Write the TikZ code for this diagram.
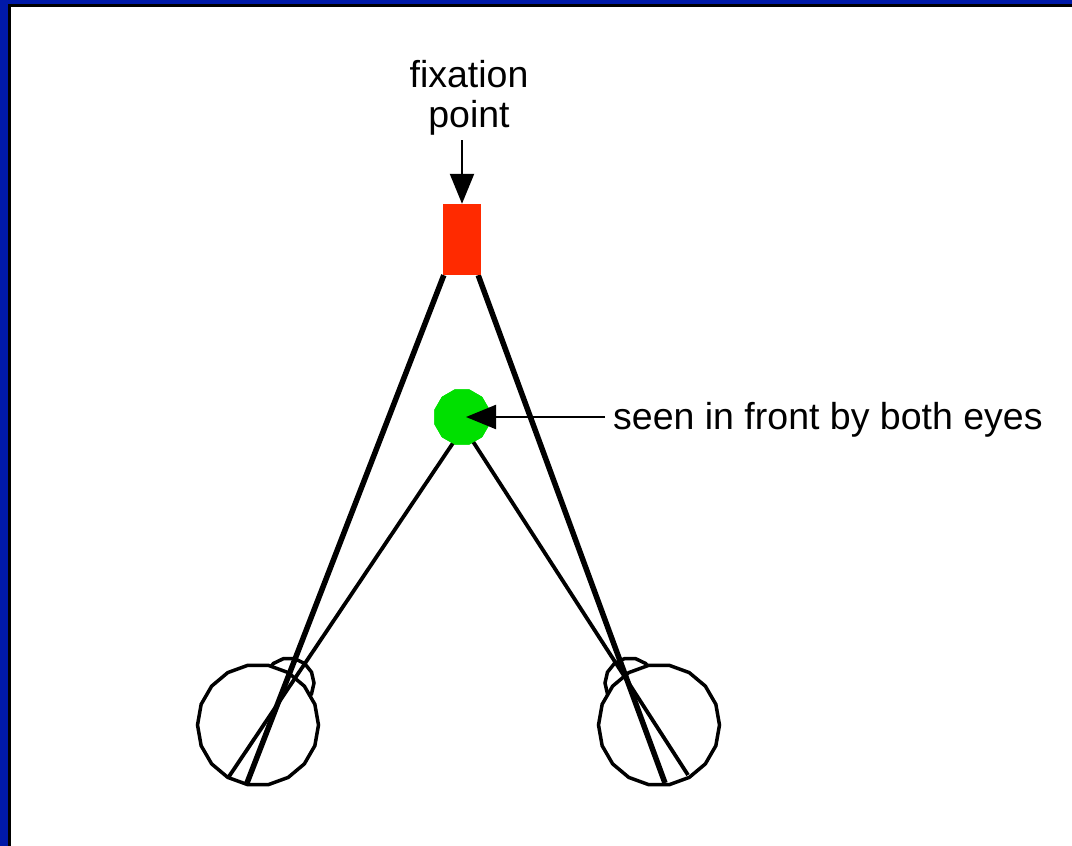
\documentclass[tikz,border=0pt]{standalone}
\usepackage{fontspec}
\setmainfont{Liberation Sans}
\usetikzlibrary{shapes.geometric,arrows.meta}
\definecolor{frameblue}{HTML}{0019A8}
\definecolor{fixred}{HTML}{FF2A00}
\definecolor{neargreen}{HTML}{00E000}
\tikzset{
  eyeball/.style={regular polygon, regular polygon sides=18, draw=black, line width=3.5pt, fill=white, inner sep=0pt},
  lens/.style={regular polygon, regular polygon sides=14, draw=black, line width=3.5pt, fill=white, inner sep=0pt, minimum size=50pt},
  target/.style={fill=fixred, minimum width=38pt, minimum height=71pt, inner sep=0pt},
  nearobj/.style={regular polygon, regular polygon sides=12, fill=neargreen, minimum size=57pt, inner sep=0pt},
  sightmain/.style={line width=5.5pt},
  sightnear/.style={line width=3.8pt},
  pointer/.style={line width=2.2pt, -{Triangle[length=30pt,width=24pt]}},
  caption/.style={font=\fontsize{37.5}{40}\selectfont, align=center, inner sep=0pt}
}
\begin{document}
\begin{tikzpicture}[x=1pt,y=-1pt]
  \useasboundingbox (0,0) rectangle (1072,846);
  \fill[white] (0,0) rectangle (1072,846);
  % frame on the left and top edges
  \fill[frameblue] (0,0) rectangle (8,846);
  \fill[frameblue] (0,0) rectangle (1072,4);
  \fill[black] (8,4) rectangle (11,846);
  \fill[black] (8,4) rectangle (1072,6.5);

  % eyes: lens behind, eyeball in front
  \node[lens] (llens) at (289,683) {};
  \node[eyeball, minimum size=121pt] (leye) at (258,725) {};
  \node[lens] (rlens) at (630,683) {};
  \node[eyeball, minimum size=121pt] (reye) at (659,725) {};

  % fixation target and near object
  \node[target] (fix) at (462,239.5) {};
  \node[nearobj] (near) at (462,417) {};

  % rays of sight
  \coordinate (lfov) at (247,783);
  \coordinate (rfov) at (665,783);
  \coordinate (lnear) at (228,778);
  \coordinate (rnear) at (688,775);
  \draw[sightmain] (lfov) -- ([xshift=1pt]fix.south west);
  \draw[sightmain] (rfov) -- ([xshift=-3pt]fix.south east);
  \draw[sightnear] (lnear) -- (455,440);
  \draw[sightnear] (rnear) -- (472,440);
  \node[target] at (fix) {};
  \node[nearobj] at (near) {};

  % labels with pointers
  \node[caption] (fixlabel) at (469,98) {fixation\\point};
  \coordinate (fixtail) at (462,140);
  \draw[pointer] (fixtail) -- (fix.north);
  \node[caption, anchor=west] (nearlabel) at (613,420) {seen in front by both eyes};
  \coordinate (neartail) at (605,417);
  \draw[pointer] (neartail) -- ([xshift=4pt]near.center);
\end{tikzpicture}
\end{document}
